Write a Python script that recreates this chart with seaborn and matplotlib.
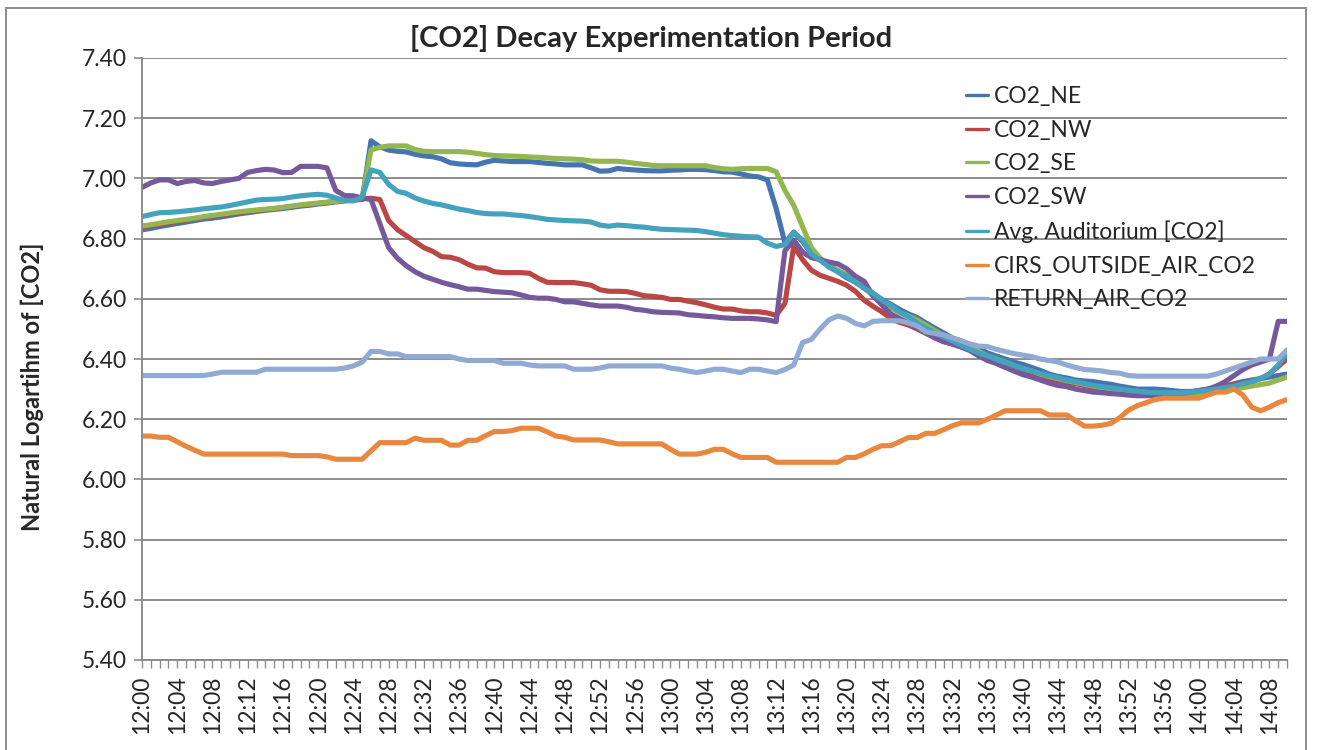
import matplotlib
matplotlib.use("Agg")
import matplotlib.pyplot as plt
import numpy as np
import pandas as pd
import seaborn as sns
from matplotlib.lines import Line2D
from matplotlib.patches import Rectangle

# ---------------- data (one value per minute, 12:00 .. 14:10) ----------------
minutes = list(range(131))
time_labels = [f"{12 + m // 60}:{m % 60:02d}" for m in minutes]

co2_ne = [6.829, 6.834, 6.840, 6.845, 6.850, 6.855, 6.860, 6.865, 6.868, 6.872,
          6.877, 6.882, 6.886, 6.890, 6.894, 6.897, 6.900, 6.904, 6.908, 6.911,
          6.915, 6.918, 6.922, 6.925, 6.928, 6.930, 7.125, 7.105, 7.094, 7.090,
          7.088, 7.080, 7.075, 7.072, 7.065, 7.052, 7.048, 7.046, 7.045, 7.054,
          7.060, 7.058, 7.056, 7.056, 7.056, 7.053, 7.050, 7.048, 7.045, 7.045,
          7.045, 7.035, 7.024, 7.025, 7.033, 7.030, 7.028, 7.026, 7.025, 7.025,
          7.027, 7.028, 7.030, 7.030, 7.029, 7.026, 7.022, 7.021, 7.015, 7.008,
          7.005, 6.995, 6.900, 6.785, 6.822, 6.790, 6.750, 6.730, 6.710, 6.690,
          6.670, 6.655, 6.640, 6.618, 6.598, 6.582, 6.565, 6.550, 6.538, 6.520,
          6.503, 6.487, 6.470, 6.460, 6.447, 6.435, 6.420, 6.410, 6.400, 6.390,
          6.382, 6.372, 6.362, 6.350, 6.342, 6.337, 6.330, 6.327, 6.325, 6.320,
          6.316, 6.310, 6.305, 6.300, 6.300, 6.300, 6.298, 6.295, 6.292, 6.292,
          6.295, 6.300, 6.305, 6.310, 6.318, 6.325, 6.330, 6.335, 6.340, 6.345,
          6.350]

co2_nw = [6.838, 6.842, 6.847, 6.852, 6.856, 6.861, 6.866, 6.871, 6.875, 6.878,
          6.882, 6.887, 6.890, 6.893, 6.896, 6.900, 6.903, 6.907, 6.911, 6.914,
          6.917, 6.920, 6.924, 6.927, 6.929, 6.932, 6.934, 6.930, 6.860, 6.830,
          6.810, 6.790, 6.770, 6.758, 6.740, 6.738, 6.730, 6.715, 6.703, 6.702,
          6.690, 6.687, 6.687, 6.687, 6.685, 6.668, 6.655, 6.654, 6.654, 6.654,
          6.650, 6.645, 6.630, 6.625, 6.625, 6.624, 6.618, 6.610, 6.608, 6.605,
          6.598, 6.598, 6.592, 6.587, 6.580, 6.572, 6.566, 6.566, 6.560, 6.557,
          6.557, 6.553, 6.545, 6.585, 6.775, 6.730, 6.695, 6.678, 6.668, 6.658,
          6.645, 6.625, 6.595, 6.575, 6.557, 6.535, 6.522, 6.513, 6.500, 6.485,
          6.472, 6.458, 6.450, 6.440, 6.430, 6.413, 6.400, 6.390, 6.380, 6.370,
          6.360, 6.350, 6.340, 6.335, 6.328, 6.322, 6.318, 6.312, 6.305, 6.300,
          6.295, 6.290, 6.290, 6.285, 6.280, 6.280, 6.280, 6.280, 6.282, 6.285,
          6.290, 6.295, 6.300, 6.308, 6.315, 6.320, 6.325, 6.335, 6.350, 6.375,
          6.400]

co2_se = [6.842, 6.846, 6.851, 6.856, 6.860, 6.864, 6.868, 6.873, 6.877, 6.881,
          6.885, 6.889, 6.892, 6.895, 6.898, 6.900, 6.904, 6.908, 6.912, 6.915,
          6.918, 6.921, 6.924, 6.927, 6.932, 6.935, 7.095, 7.103, 7.108, 7.108,
          7.108, 7.096, 7.090, 7.089, 7.089, 7.089, 7.089, 7.087, 7.083, 7.079,
          7.076, 7.075, 7.074, 7.073, 7.071, 7.070, 7.068, 7.066, 7.065, 7.064,
          7.062, 7.058, 7.057, 7.057, 7.057, 7.054, 7.050, 7.047, 7.043, 7.042,
          7.042, 7.042, 7.042, 7.042, 7.042, 7.036, 7.032, 7.030, 7.032, 7.033,
          7.033, 7.033, 7.022, 6.960, 6.910, 6.840, 6.770, 6.735, 6.712, 6.695,
          6.680, 6.655, 6.635, 6.610, 6.590, 6.570, 6.555, 6.543, 6.530, 6.512,
          6.495, 6.478, 6.463, 6.450, 6.440, 6.425, 6.410, 6.400, 6.390, 6.378,
          6.368, 6.360, 6.350, 6.342, 6.335, 6.328, 6.322, 6.316, 6.310, 6.305,
          6.300, 6.296, 6.292, 6.288, 6.285, 6.282, 6.280, 6.280, 6.280, 6.280,
          6.282, 6.288, 6.292, 6.296, 6.300, 6.305, 6.310, 6.315, 6.320, 6.330,
          6.340]

co2_sw = [6.970, 6.985, 6.995, 6.995, 6.983, 6.990, 6.993, 6.985, 6.983, 6.990,
          6.995, 7.000, 7.020, 7.026, 7.030, 7.028, 7.019, 7.020, 7.040, 7.040,
          7.040, 7.035, 6.960, 6.943, 6.942, 6.935, 6.930, 6.850, 6.770, 6.735,
          6.710, 6.690, 6.675, 6.665, 6.655, 6.647, 6.640, 6.632, 6.632, 6.628,
          6.624, 6.622, 6.620, 6.613, 6.605, 6.602, 6.602, 6.598, 6.590, 6.590,
          6.585, 6.580, 6.576, 6.576, 6.576, 6.572, 6.565, 6.562, 6.557, 6.555,
          6.554, 6.553, 6.547, 6.545, 6.542, 6.540, 6.537, 6.535, 6.535, 6.535,
          6.533, 6.530, 6.524, 6.760, 6.795, 6.755, 6.737, 6.730, 6.722, 6.716,
          6.700, 6.675, 6.658, 6.610, 6.580, 6.550, 6.535, 6.520, 6.503, 6.487,
          6.470, 6.458, 6.450, 6.440, 6.428, 6.410, 6.395, 6.385, 6.372, 6.360,
          6.348, 6.340, 6.330, 6.320, 6.312, 6.308, 6.300, 6.295, 6.290, 6.288,
          6.285, 6.283, 6.280, 6.278, 6.278, 6.278, 6.278, 6.280, 6.285, 6.290,
          6.295, 6.300, 6.310, 6.325, 6.345, 6.365, 6.380, 6.390, 6.400, 6.525,
          6.525]

avg_auditorium = [6.873, 6.880, 6.886, 6.887, 6.889, 6.892, 6.895, 6.899, 6.902, 6.905,
                  6.910, 6.916, 6.922, 6.928, 6.930, 6.931, 6.933, 6.938, 6.942, 6.945,
                  6.947, 6.944, 6.935, 6.927, 6.925, 6.938, 7.028, 7.020, 6.980, 6.957,
                  6.950, 6.935, 6.925, 6.917, 6.912, 6.905, 6.898, 6.893, 6.887, 6.883,
                  6.882, 6.882, 6.879, 6.877, 6.873, 6.869, 6.864, 6.862, 6.860, 6.859,
                  6.858, 6.855, 6.845, 6.841, 6.845, 6.843, 6.840, 6.838, 6.834, 6.831,
                  6.830, 6.829, 6.828, 6.827, 6.823, 6.818, 6.813, 6.810, 6.808, 6.806,
                  6.805, 6.785, 6.774, 6.780, 6.820, 6.795, 6.748, 6.728, 6.705, 6.690,
                  6.675, 6.655, 6.635, 6.618, 6.595, 6.578, 6.557, 6.540, 6.520, 6.502,
                  6.487, 6.474, 6.460, 6.445, 6.432, 6.420, 6.410, 6.398, 6.388, 6.378,
                  6.368, 6.360, 6.352, 6.345, 6.338, 6.330, 6.325, 6.318, 6.312, 6.308,
                  6.304, 6.300, 6.296, 6.293, 6.290, 6.288, 6.288, 6.288, 6.288, 6.290,
                  6.292, 6.296, 6.300, 6.305, 6.310, 6.318, 6.325, 6.335, 6.350, 6.380,
                  6.420]

outside_air = [6.144, 6.144, 6.140, 6.140, 6.125, 6.110, 6.097, 6.084, 6.084, 6.084,
               6.084, 6.084, 6.084, 6.084, 6.084, 6.084, 6.084, 6.079, 6.079, 6.079,
               6.079, 6.075, 6.067, 6.067, 6.067, 6.067, 6.095, 6.122, 6.122, 6.122,
               6.122, 6.137, 6.130, 6.130, 6.130, 6.114, 6.114, 6.130, 6.130, 6.145,
               6.159, 6.159, 6.162, 6.170, 6.170, 6.170, 6.158, 6.144, 6.140, 6.131,
               6.131, 6.131, 6.131, 6.125, 6.118, 6.118, 6.118, 6.118, 6.118, 6.118,
               6.100, 6.084, 6.084, 6.084, 6.090, 6.100, 6.100, 6.085, 6.073, 6.073,
               6.073, 6.073, 6.057, 6.057, 6.057, 6.057, 6.057, 6.057, 6.057, 6.057,
               6.073, 6.073, 6.085, 6.100, 6.112, 6.112, 6.125, 6.139, 6.139, 6.153,
               6.153, 6.165, 6.178, 6.188, 6.188, 6.188, 6.200, 6.214, 6.228, 6.228,
               6.228, 6.228, 6.228, 6.214, 6.214, 6.214, 6.195, 6.177, 6.177, 6.180,
               6.186, 6.205, 6.230, 6.245, 6.255, 6.265, 6.270, 6.270, 6.270, 6.270,
               6.270, 6.280, 6.290, 6.290, 6.300, 6.280, 6.240, 6.228, 6.240, 6.255,
               6.265]

return_air = [6.345, 6.345, 6.345, 6.345, 6.345, 6.345, 6.345, 6.345, 6.350, 6.356,
              6.356, 6.356, 6.356, 6.356, 6.366, 6.366, 6.366, 6.366, 6.366, 6.366,
              6.366, 6.366, 6.366, 6.370, 6.377, 6.390, 6.425, 6.425, 6.417, 6.417,
              6.408, 6.408, 6.408, 6.408, 6.408, 6.408, 6.400, 6.395, 6.395, 6.395,
              6.395, 6.386, 6.386, 6.386, 6.380, 6.377, 6.377, 6.377, 6.377, 6.366,
              6.366, 6.366, 6.370, 6.377, 6.377, 6.377, 6.377, 6.377, 6.377, 6.377,
              6.370, 6.366, 6.360, 6.355, 6.360, 6.366, 6.366, 6.360, 6.355, 6.366,
              6.366, 6.360, 6.355, 6.365, 6.380, 6.455, 6.465, 6.500, 6.530, 6.543,
              6.535, 6.518, 6.510, 6.525, 6.527, 6.527, 6.527, 6.520, 6.510, 6.490,
              6.485, 6.480, 6.470, 6.460, 6.450, 6.443, 6.441, 6.432, 6.425, 6.418,
              6.413, 6.408, 6.400, 6.395, 6.390, 6.380, 6.372, 6.365, 6.363, 6.360,
              6.355, 6.353, 6.345, 6.343, 6.343, 6.343, 6.343, 6.343, 6.343, 6.343,
              6.343, 6.343, 6.350, 6.360, 6.370, 6.380, 6.390, 6.400, 6.400, 6.400,
              6.430]

series_names = ["CO2_NE", "CO2_NW", "CO2_SE", "CO2_SW", "Avg. Auditorium [CO2]",
                "CIRS_OUTSIDE_AIR_CO2", "RETURN_AIR_CO2"]
series_values = [co2_ne, co2_nw, co2_se, co2_sw, avg_auditorium, outside_air, return_air]
series_colors = ["#4575B0", "#B94743", "#93B650", "#75599A", "#43A2BE", "#E8873D", "#90AAD3"]

y_ticks = [5.40, 5.60, 5.80, 6.00, 6.20, 6.40, 6.60, 6.80, 7.00, 7.20, 7.40]

# ---------------- build long-form table ----------------
df = pd.concat(
    [pd.DataFrame({"minute": minutes, "value": vals, "series": name})
     for name, vals in zip(series_names, series_values)],
    ignore_index=True)
palette = dict(zip(series_names, series_colors))

# ---------------- plot ----------------
sns.set_theme(style="white")
plt.rcParams["font.family"] = ["Lato", "DejaVu Sans"]

W, H = 1328, 750
fig = plt.figure(figsize=(W / 100, H / 100), dpi=100)
ax = fig.add_axes([142 / W, 1 - 660 / H, (1287 - 142) / W, (660 - 58) / H])

sns.lineplot(data=df, x="minute", y="value", hue="series", hue_order=series_names,
             palette=palette, estimator=None, sort=False, linewidth=3.7,
             legend=False, ax=ax)

grid_c = "#8c8c8c"
ax.set_xlim(0, 130)
ax.set_ylim(5.4, 7.4)
ax.set_yticks(y_ticks)
ax.set_yticklabels([f"{v:.2f}" for v in y_ticks])
ax.set_xticks(minutes[::4])
ax.set_xticklabels(time_labels[::4], rotation=90)
ax.set_xticks(minutes, minor=True)
ax.set_xlabel("")
ax.set_ylabel("")

ax.yaxis.grid(True, color=grid_c, linewidth=1.4)
ax.xaxis.grid(False)
ax.set_axisbelow(True)
for s in ["top", "right"]:
    ax.spines[s].set_visible(False)
for s in ["left", "bottom"]:
    ax.spines[s].set_color(grid_c)
    ax.spines[s].set_linewidth(1.4)

ax.tick_params(axis="y", which="major", direction="out", length=6, width=1.2,
               color=grid_c, labelsize=16.5, pad=5, left=True)
ax.tick_params(axis="x", which="both", direction="out", length=6, width=1.0,
               color=grid_c, labelsize=16.5, pad=5, bottom=True)

# title and y label
fig.text(651 / W, 1 - 38 / H, "[CO2] Decay Experimentation Period",
         ha="center", va="center", fontsize=21, fontweight="bold")
fig.text(32 / W, 1 - 387 / H, "Natural Logartihm of [CO2]", rotation=90,
         ha="center", va="center", fontsize=17, fontweight="bold")

# legend (no frame, overlaid on plot)
handles = [Line2D([0], [0], color=c, linewidth=2.4) for c in series_colors]
fig.legend(handles, series_names, loc="upper left",
           bbox_to_anchor=(966 / W, 1 - 86 / H), frameon=False,
           fontsize=16.5, handlelength=0.95, handletextpad=0.25,
           labelspacing=0.55, borderaxespad=0, borderpad=0)

# outer chart border
fig.patches.append(Rectangle((6 / W, -0.02), (1306 - 6) / W, (750 - 8) / H + 0.02,
                             transform=fig.transFigure, fill=False,
                             edgecolor=grid_c, linewidth=1.4))

fig.savefig("out.png", dpi=100)
